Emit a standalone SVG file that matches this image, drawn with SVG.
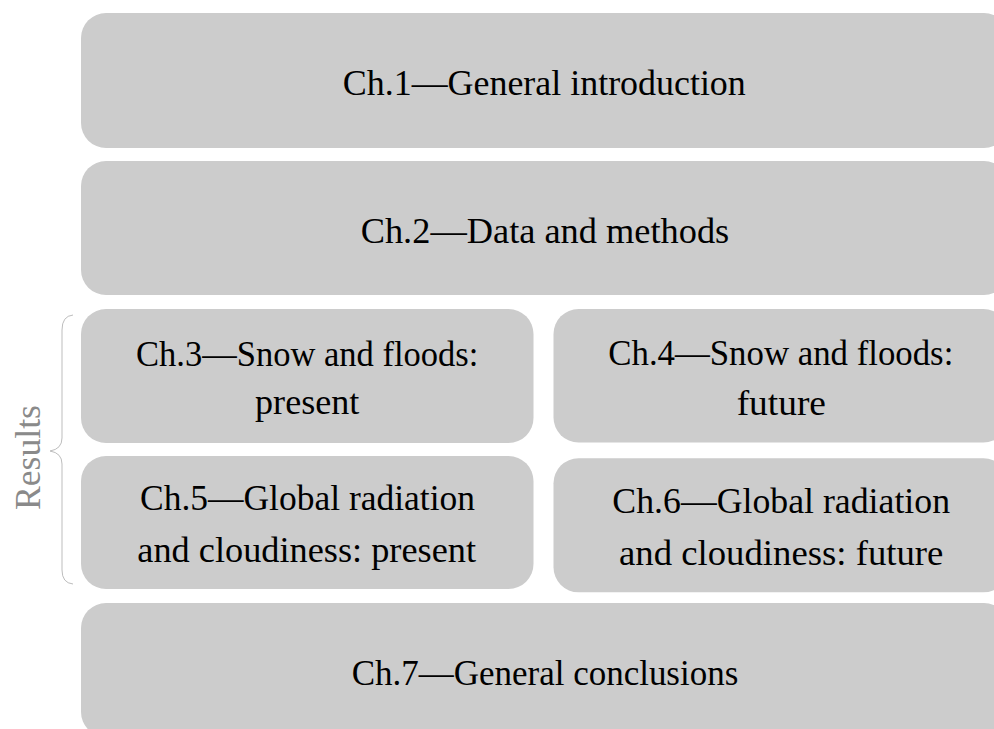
<svg xmlns="http://www.w3.org/2000/svg" width="994" height="729" viewBox="0 0 994 729">
<style>
.box{fill:#cccccc;}
.lbl{font-family:"Liberation Serif","Times New Roman",serif;font-size:36px;fill:#000;text-anchor:middle;}
.side{font-family:"Liberation Serif","Times New Roman",serif;font-size:36px;fill:#8a8a8a;text-anchor:middle;}
.brace{fill:none;stroke:#bdbdbd;stroke-width:1;}
</style>
<rect width="994" height="729" fill="#ffffff"/>
<g id="ch1">
<rect class="box" x="81" y="13" width="928" height="135" rx="25" ry="25"/>
<text class="lbl" x="544.3" y="95" textLength="403" lengthAdjust="spacingAndGlyphs">Ch.1—General introduction</text>
</g>
<g id="ch2">
<rect class="box" x="81" y="161" width="928" height="134" rx="25" ry="25"/>
<text class="lbl" x="545" y="242.7" textLength="368.6" lengthAdjust="spacingAndGlyphs">Ch.2—Data and methods</text>
</g>
<g id="ch3">
<rect class="box" x="81" y="309" width="452.5" height="134" rx="25" ry="25"/>
<text class="lbl" x="307.2" y="366" textLength="342.3" lengthAdjust="spacingAndGlyphs">Ch.3—Snow and floods:</text>
<text class="lbl" x="307.2" y="414.3" textLength="104.3" lengthAdjust="spacingAndGlyphs">present</text>
</g>
<g id="ch4">
<rect class="box" x="553.5" y="309" width="455" height="133.5" rx="25" ry="25"/>
<text class="lbl" x="780.8" y="365" textLength="345" lengthAdjust="spacingAndGlyphs">Ch.4—Snow and floods:</text>
<text class="lbl" x="781.3" y="415" textLength="89.3" lengthAdjust="spacingAndGlyphs">future</text>
</g>
<g id="ch5">
<rect class="box" x="81" y="456" width="452.5" height="133" rx="25" ry="25"/>
<text class="lbl" x="307.5" y="510" textLength="335" lengthAdjust="spacingAndGlyphs">Ch.5—Global radiation</text>
<text class="lbl" x="306.7" y="561.7" textLength="338.7" lengthAdjust="spacingAndGlyphs">and cloudiness: present</text>
</g>
<g id="ch6">
<rect class="box" x="553.5" y="458.3" width="455" height="134" rx="25" ry="25"/>
<text class="lbl" x="781.2" y="513.3" textLength="337.7" lengthAdjust="spacingAndGlyphs">Ch.6—Global radiation</text>
<text class="lbl" x="781.2" y="565" textLength="324.3" lengthAdjust="spacingAndGlyphs">and cloudiness: future</text>
</g>
<g id="ch7">
<rect class="box" x="81" y="603" width="928" height="134" rx="25" ry="25"/>
<text class="lbl" x="545" y="685" textLength="386.6" lengthAdjust="spacingAndGlyphs">Ch.7—General conclusions</text>
</g>
<g id="results">
<path class="brace" d="M73,315 Q62,316 62,330 L62,438 Q62,449 50,451 Q62,453 62,464 L62,570 Q62,583 73,584"/>
<text class="side" transform="translate(40,457.5) rotate(-90)" x="0" y="0" textLength="105" lengthAdjust="spacingAndGlyphs">Results</text>
</g>
<g id="connectors"></g>
</svg>
